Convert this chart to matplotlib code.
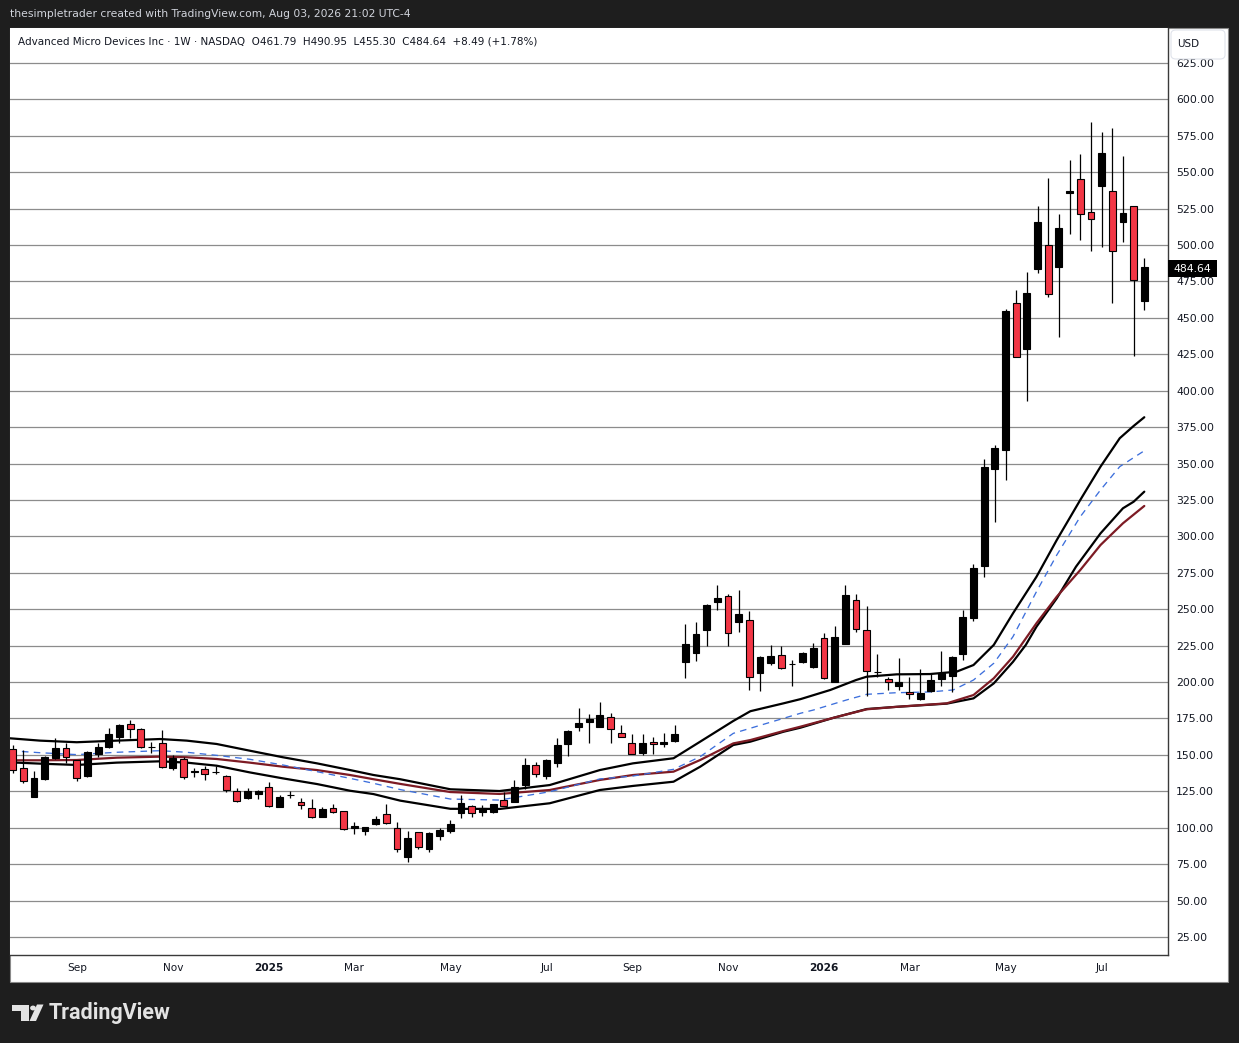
import matplotlib
matplotlib.use('Agg')
import matplotlib.pyplot as plt
from matplotlib.patches import Rectangle, FancyBboxPatch, Polygon, Circle
from matplotlib.transforms import blended_transform_factory

W, H, DPI = 1239, 1043, 100

# ---------------- data (weekly candles, AMD) ----------------
opens = [153.9, 140.8, 121.3, 133.5, 148.1, 154.5, 146.3, 135.5, 150.6, 155.6,
         162.5, 171.0, 167.6, 155.5, 158.0, 141.3, 147.0, 138.4, 140.1, 138.0,
         135.5, 125.3, 120.2, 123.0, 128.2, 114.5, 122.4, 117.5, 113.3, 107.6,
         113.3, 111.5, 99.6, 98.0, 102.4, 109.5, 99.6, 80.1, 96.9, 85.6,
         94.5, 98.0, 109.8, 114.9, 110.6, 110.6, 119.0, 117.8, 129.0, 143.4,
         135.7, 144.7, 157.3, 168.9, 172.4, 169.4, 176.2, 165.0, 158.0, 151.1,
         159.1, 157.3, 159.8, 214.0, 219.7, 235.8, 255.1, 259.1, 241.5, 242.6,
         206.4, 213.4, 218.4, 212.3, 214.0, 210.6, 230.1, 200.3, 226.1, 256.4,
         235.8, 206.6, 201.9, 197.6, 193.4, 188.3, 194.1, 201.9, 204.4, 219.0,
         244.2, 280.0, 346.1, 359.3, 460.0, 428.6, 483.8, 500.0, 484.8, 535.5,
         545.1, 522.4, 540.4, 537.1, 516.0, 527.0, 461.79]
highs = [156.8, 153.4, 139.0, 149.3, 161.4, 158.0, 146.3, 152.7, 158.4, 168.3,
         171.0, 174.0, 168.3, 159.1, 167.1, 149.9, 148.4, 141.3, 142.4, 142.4,
         135.9, 127.1, 127.1, 125.9, 131.6, 122.5, 125.2, 120.2, 119.5, 114.0,
         116.3, 111.8, 103.6, 100.8, 108.1, 116.0, 104.1, 97.8, 97.2, 97.3,
         100.0, 105.3, 122.5, 115.5, 115.6, 116.3, 124.7, 132.8, 147.6, 145.0,
         146.9, 161.8, 167.1, 182.4, 178.1, 186.5, 178.5, 170.5, 164.4, 164.4,
         162.5, 165.0, 170.5, 239.9, 241.0, 253.3, 266.6, 260.5, 263.2, 249.0,
         217.9, 225.5, 224.8, 215.2, 220.8, 227.1, 233.9, 238.5, 266.6, 260.5,
         252.2, 219.2, 203.6, 216.3, 203.2, 208.7, 205.5, 221.2, 217.9, 249.5,
         281.0, 353.0, 362.8, 456.1, 469.2, 481.4, 526.8, 545.7, 521.4, 558.4,
         562.3, 584.2, 577.9, 580.2, 561.2, 527.0, 490.95]
lows = [137.4, 130.5, 121.3, 132.8, 147.0, 144.7, 132.2, 135.0, 148.4, 154.5,
        158.4, 161.8, 154.8, 151.1, 141.2, 139.6, 133.2, 135.0, 132.8, 136.7,
        124.7, 117.8, 119.7, 119.5, 114.5, 114.3, 120.2, 112.9, 106.4, 107.3,
        110.3, 98.4, 95.7, 95.0, 102.1, 102.8, 83.6, 76.7, 85.1, 83.3,
        91.6, 96.5, 106.8, 107.5, 108.1, 110.3, 114.8, 117.5, 126.6, 135.0,
        133.2, 141.9, 149.4, 166.1, 158.0, 168.9, 158.4, 162.0, 150.3, 149.9,
        150.4, 155.2, 159.1, 203.0, 214.7, 224.8, 249.5, 224.8, 234.6, 194.8,
        193.9, 211.8, 208.9, 197.6, 212.9, 209.5, 202.4, 200.0, 225.8, 234.6,
        190.7, 203.6, 194.5, 194.5, 188.1, 188.0, 193.4, 197.5, 192.9, 215.2,
        242.1, 272.3, 310.1, 338.7, 423.1, 393.1, 480.6, 464.2, 437.1, 507.4,
        503.5, 495.7, 498.7, 460.4, 502.3, 424.0, 455.30]
closes = [139.4, 131.9, 133.9, 148.4, 154.5, 148.4, 133.9, 151.8, 155.4, 164.4,
          170.5, 167.6, 155.2, 155.7, 141.6, 147.7, 134.6, 138.6, 136.7, 138.2,
          125.8, 118.6, 125.2, 125.2, 115.2, 120.9, 122.6, 115.5, 107.1, 112.6,
          110.6, 99.1, 101.2, 100.2, 106.0, 103.1, 85.2, 92.8, 87.0, 96.2,
          98.5, 102.3, 116.7, 109.8, 113.3, 116.0, 115.1, 127.7, 143.4, 137.0,
          146.2, 156.8, 166.4, 171.7, 174.6, 177.4, 167.6, 162.3, 150.6, 158.0,
          157.3, 159.1, 164.2, 226.1, 233.0, 252.9, 257.7, 233.5, 246.7, 203.3,
          217.0, 217.9, 209.9, 212.5, 219.7, 223.2, 202.7, 231.2, 259.8, 236.2,
          207.8, 206.8, 199.8, 199.8, 191.9, 192.5, 201.4, 206.0, 217.0, 244.4,
          278.0, 347.5, 360.5, 454.7, 423.4, 466.9, 515.6, 466.5, 511.7, 537.1,
          521.3, 517.7, 563.5, 495.9, 521.8, 476.15, 484.64]

# moving-average style lines: (week index, price)
upper_x = [-0.25, 2.56, 6.0, 9.74, 13.8, 16.3, 19.1, 22.2, 25.3, 28.5, 31.6, 33.8,
           36.3, 41.0, 45.6, 50.3, 55.0, 58.1, 61.9, 64.4, 67.5, 69.1, 72.2, 73.8,
           76.6, 79.0, 80.0, 82.8, 85.9, 88.4, 90.0, 91.9, 93.7, 95.9, 97.8, 100.0,
           101.9, 103.7, 105.0, 106.0]
upper_v = [161.4, 159.8, 158.7, 159.8, 160.9, 159.8, 157.5, 152.9, 148.4, 144.2, 139.6, 136.2,
           133.3, 126.4, 125.2, 129.3, 139.6, 144.2, 147.7, 159.1, 173.3, 180.0, 185.4, 188.3,
           194.6, 201.4, 203.7, 205.3, 205.5, 207.1, 211.7, 225.5, 247.2, 272.3, 297.5, 325.0,
           347.9, 367.4, 375.8, 381.8]
mid_x = [-0.25, 2.56, 6.0, 9.74, 13.8, 16.3, 19.1, 22.2, 25.3, 28.5, 31.6, 33.8,
         36.3, 41.0, 45.6, 50.3, 55.0, 58.1, 61.9, 64.4, 67.5, 69.1, 72.2, 73.8,
         75.0, 78.1, 80.0, 82.8, 85.9, 88.1, 90.0, 91.9, 93.7, 95.9, 97.8, 100.0,
         101.9, 103.7, 106.0]
mid_v = [152.9, 151.5, 150.2, 151.8, 152.9, 151.8, 149.7, 147.0, 143.1, 138.5, 133.9, 130.5,
         126.2, 119.7, 119.0, 124.7, 133.5, 135.5, 140.1, 148.8, 164.8, 168.3, 175.1, 178.6,
         180.8, 187.7, 191.6, 192.7, 193.2, 194.6, 201.4, 212.9, 231.2, 262.1, 287.2, 313.5,
         331.9, 347.9, 358.8]
red_x = [-0.25, 2.56, 6.0, 9.74, 13.8, 16.3, 19.1, 22.2, 25.3, 28.5, 31.6, 33.8,
         36.3, 41.0, 45.6, 50.3, 55.0, 58.1, 61.9, 64.4, 67.5, 69.1, 72.2, 73.8,
         76.9, 80.0, 82.8, 87.5, 90.0, 91.9, 93.7, 95.9, 97.8, 100.0, 101.9, 104.0, 106.0]
red_v = [146.3, 146.3, 146.5, 148.1, 148.8, 148.4, 147.2, 144.7, 141.9, 139.6, 136.2, 133.3,
         130.1, 124.5, 123.2, 125.9, 132.8, 136.2, 138.5, 146.5, 157.9, 160.2, 166.4, 169.4,
         175.5, 181.3, 183.0, 185.4, 191.1, 202.6, 217.4, 240.4, 258.6, 276.9, 294.1, 309.0, 320.9]
lower_x = [-0.25, 2.56, 6.0, 9.74, 13.8, 16.3, 19.1, 22.2, 25.3, 28.5, 31.6, 33.8,
           36.3, 41.0, 45.6, 50.3, 55.0, 58.1, 61.9, 64.4, 67.5, 69.1, 72.2, 73.8,
           76.9, 80.0, 82.8, 87.5, 90.0, 91.9, 93.7, 94.9, 95.9, 97.8, 99.6, 101.9,
           104.0, 105.0, 106.0]
lower_v = [144.9, 144.0, 143.1, 144.7, 145.6, 144.7, 142.6, 138.0, 133.9, 130.0, 125.4, 123.1,
           118.6, 113.0, 112.9, 116.8, 125.9, 128.7, 131.6, 141.9, 156.8, 159.1, 165.9, 168.7,
           175.5, 181.5, 183.0, 185.2, 188.8, 199.1, 213.9, 225.5, 238.0, 257.5, 279.2, 302.1,
           319.3, 323.8, 330.7]

month_labels = ['Sep', 'Nov', '2025', 'Mar', 'May', 'Jul', 'Sep', 'Nov', '2026', 'Mar', 'May', 'Jul']
month_pos = [6, 15, 24, 32, 41, 50, 58, 67, 76, 84, 93, 102]
price_ticks = list(range(25, 626, 25))
last_price = 484.64

header = "thesimpletrader created with TradingView.com, Aug 03, 2026 21:02 UTC-4"
legend = ("Advanced Micro Devices Inc \u00b7 1W \u00b7 NASDAQ  O461.79  H490.95  "
          "L455.30  C484.64  +8.49 (+1.78%)")

# ---------------- figure ----------------
plt.rcParams['font.family'] = ['DejaVu Sans']
fig = plt.figure(figsize=(W / DPI, H / DPI), dpi=DPI)
fig.patch.set_facecolor('#1e1e1e')


def fx(px):
    return px / W


def fy(py):
    return 1 - py / H


# white panel (chart + axis strips)
fig.patches.append(Rectangle((fx(10), fy(982)), fx(1228) - fx(10), fy(28) - fy(982),
                             transform=fig.transFigure, facecolor='white',
                             edgecolor='#8a8a8a', lw=0.8, zorder=-5))

ax = fig.add_axes([fx(10), fy(955), fx(1168) - fx(10), fy(28) - fy(955)])
ax.set_facecolor('white')
ax.set_xlim(-0.253, 108.22)
ax.set_ylim(12.64, 649.0)

# grid
for p in price_ticks:
    ax.axhline(p, color='#8c8c8c', lw=0.9, zorder=0.5)

# lines
ax.plot(upper_x, upper_v, color='black', lw=1.6, zorder=1.5, solid_capstyle='round')
ax.plot(lower_x, lower_v, color='black', lw=1.6, zorder=1.5, solid_capstyle='round')
ax.plot(red_x, red_v, color='#7d1b24', lw=1.6, zorder=1.6, solid_capstyle='round')
ax.plot(mid_x, mid_v, color='#3d6fdc', lw=0.95, ls=(0, (5, 4)), zorder=1.6)

# candles
bw = 0.64
for i, (o, h, l, c) in enumerate(zip(opens, highs, lows, closes)):
    ax.vlines(i, l, h, color='black', lw=0.9, zorder=2)
    up = c >= o
    bottom = min(o, c)
    height = max(abs(c - o), 0.25)
    ax.add_patch(Rectangle((i - bw / 2, bottom), bw, height,
                           facecolor='black' if up else '#f23645',
                           edgecolor='black', lw=0.8, zorder=3))

# axes styling
for s in ['left', 'top']:
    ax.spines[s].set_visible(False)
for s in ['right', 'bottom']:
    ax.spines[s].set_color('#3a3a3a')
    ax.spines[s].set_linewidth(1.0)
ax.set_xticks([])
ax.yaxis.tick_right()
ax.set_yticks(price_ticks)
ax.set_yticklabels([f"{p:.2f}" for p in price_ticks])
ax.tick_params(axis='y', length=0, pad=5.8, labelsize=7.8, colors='#131722')
for t in ax.get_yticklabels():
    t.set_horizontalalignment('left')

# month labels
tr = blended_transform_factory(ax.transData, fig.transFigure)
for lab, pos in zip(month_labels, month_pos):
    bold = lab.isdigit()
    ax.text(pos, fy(968), lab, transform=tr, ha='center', va='center',
            fontsize=7.6, color='#131722', fontweight='bold' if bold else 'normal')

# USD box
fig.patches.append(FancyBboxPatch((fx(1171), fy(59)), fx(1225) - fx(1171), fy(30) - fy(59),
                                  boxstyle='round,pad=0,rounding_size=0.004',
                                  transform=fig.transFigure, facecolor='white',
                                  edgecolor='#e0e3eb', lw=0.8, zorder=5))
fig.text(fx(1188), fy(44), 'USD', fontsize=7.5, color='#131722', ha='center', va='center', zorder=6)

# last price label
fig.patches.append(Rectangle((fx(1168), fy(277)), fx(1217) - fx(1168), fy(260) - fy(277),
                             transform=fig.transFigure, facecolor='black', edgecolor='none', zorder=5))
fig.text(fx(1192.5), fy(268.5), f"{last_price:.2f}", fontsize=7.8, color='white',
         ha='center', va='center', zorder=6)

# header & legend
fig.text(fx(10), fy(14), header, fontsize=7.75, color='#d1d4dc', ha='left', va='center')
fig.text(fx(18), fy(42), legend, fontsize=7.5, color='#131722', ha='left', va='center')

# TradingView logo
logo_c = '#e3e3e3'
fig.patches.append(Polygon([(fx(12), fy(1004.5)), (fx(28.5), fy(1004.5)), (fx(28.5), fy(1021)),
                            (fx(20.5), fy(1021)), (fx(20.5), fy(1010.5)), (fx(12), fy(1010.5))],
                           closed=True, transform=fig.transFigure, facecolor=logo_c,
                           edgecolor='none', zorder=5))
fig.patches.append(Circle((fx(33), fy(1008.0)), 2.9 / W, transform=fig.transFigure,
                          facecolor=logo_c, edgecolor='none', zorder=5))
fig.patches.append(Polygon([(fx(37), fy(1004.5)), (fx(43.5), fy(1004.5)), (fx(36), fy(1021)),
                            (fx(29.5), fy(1021))],
                           closed=True, transform=fig.transFigure, facecolor=logo_c,
                           edgecolor='none', zorder=5))
fig.text(fx(49), fy(1013), 'TradingView', fontsize=15.5, fontweight='bold', color=logo_c,
         ha='left', va='center', family=['Roboto', 'DejaVu Sans'])

fig.savefig('out.png', dpi=DPI, facecolor=fig.get_facecolor())
